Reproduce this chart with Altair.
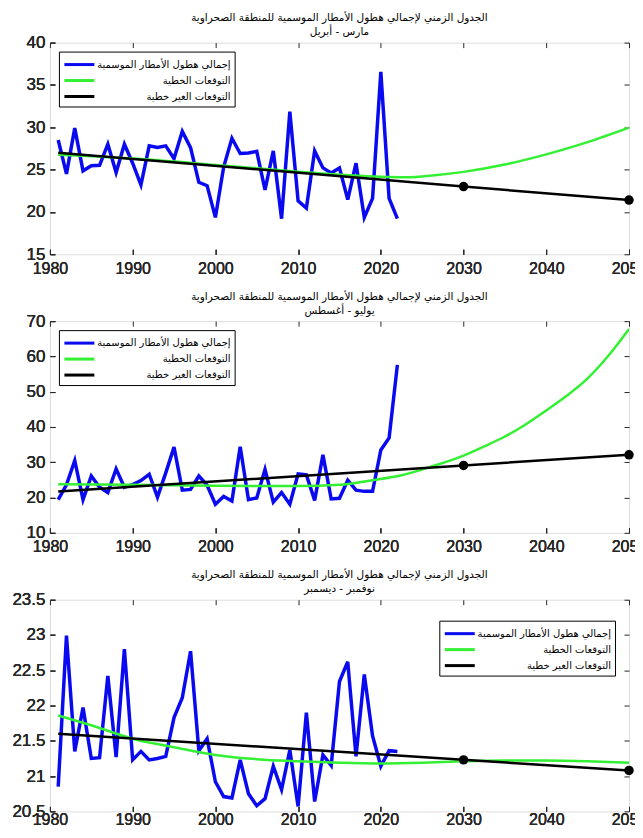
import altair as alt
import pandas as pd

TITLE = "الجدول الزمني لإجمالي هطول الأمطار الموسمية للمنطقة الصحراوية"
SUBTITLES = ["مارس - أبريل", "يوليو - أغسطس", "نوفمبر - ديسمبر"]
SERIES = ["إجمالي هطول الأمطار الموسمية", "التوقعات الخطية", "التوقعات الغير خطية"]

years = list(range(1981, 2023))

# March - April
obs_1 = [28.5, 24.5, 29.9, 24.85, 25.45, 25.5, 28.0, 24.65, 28.0, 25.75, 23.2, 27.8,
         27.6, 27.8, 26.3, 29.5, 27.6, 23.5, 23.1, 19.35, 25.3, 28.7, 26.9, 26.95,
         27.15, 22.6, 27.2, 19.2, 31.85, 21.3, 20.45, 27.2, 25.2, 24.6, 25.2, 21.45,
         25.75, 19.35, 21.6, 36.55, 21.6, 19.2]
lin_years_1 = [1981, 1990, 2000, 2010, 2015, 2020, 2023, 2026.5, 2030, 2035, 2040, 2045, 2050]
lin_1 = [26.75, 26.3, 25.55, 24.75, 24.4, 24.15, 24.1, 24.34, 24.73, 25.6, 26.8, 28.25, 29.96]
nl_years = [1981, 2030, 2050]
nl_1 = [27.0, 23.0, 21.4]

# July - August
obs_2 = [19.4, 23.6, 30.5, 19.4, 26.1, 22.9, 21.4, 28.1, 22.9, 23.7, 24.8, 26.6,
         20.1, 27.0, 34.3, 22.1, 22.3, 26.1, 23.5, 18.1, 20.3, 19.0, 34.4, 19.4,
         19.9, 28.0, 18.7, 21.4, 18.1, 26.7, 26.4, 19.2, 32.1, 19.6, 19.8, 24.9,
         22.1, 21.75, 21.75, 33.5, 36.9, 57.6]
lin_years_2 = [1981, 1990, 2000, 2005, 2010, 2015, 2019, 2022.5, 2026, 2030, 2032.5,
               2035, 2037.5, 2040, 2042.5, 2045, 2047.5, 2050]
lin_2 = [23.8, 23.6, 23.35, 23.25, 23.25, 23.6, 24.9, 26.3, 28.7, 31.9, 34.5,
         37.3, 40.7, 44.7, 48.9, 53.8, 60.2, 67.8]
nl_2 = [21.7, 29.1, 32.1]

# November - December
obs_3 = [20.85, 22.99, 21.35, 21.97, 21.25, 21.26, 22.42, 21.27, 22.8, 21.23, 21.35, 21.23,
         21.25, 21.28, 21.83, 22.11, 22.77, 21.36, 21.53, 20.92, 20.71, 20.69, 21.23, 20.75,
         20.58, 20.68, 21.14, 20.81, 21.37, 20.57, 21.9, 20.64, 21.3, 21.15, 22.34, 22.62,
         21.28, 22.44, 21.57, 21.14, 21.36, 21.35]
lin_years_3 = [1981, 1985, 1990, 1995, 2000, 2005, 2010, 2015, 2020, 2025, 2030, 2035, 2040, 2045, 2050]
lin_3 = [21.86, 21.72, 21.53, 21.41, 21.3, 21.24, 21.21, 21.19, 21.18, 21.19, 21.21, 21.22, 21.22, 21.21, 21.19]
nl_3 = [21.6, 21.23, 21.08]

x_ticks = [1980, 1990, 2000, 2010, 2020, 2030, 2040, 2050]
y_ticks_1 = [15, 20, 25, 30, 35, 40]
y_ticks_2 = [10, 20, 30, 40, 50, 60, 70]
y_ticks_3 = [20.5, 21, 21.5, 22, 22.5, 23, 23.5]

COLORS = ["#0a0af0", "#33f033", "#000000"]
AXIS_COLOR = "#262626"
NUM_FONT = "Liberation Sans"
AR_FONT = "DejaVu Sans"
W, H = 580, 212
LINE_SYMBOL = "M-1,0H3"


def panel(obs, lin_y, lin_v, nl_v, ydom, yticks, sub, lx, ly, xpad):
    obs_df = pd.DataFrame({"year": years, "value": obs, "series": SERIES[0]})
    lin_df = pd.DataFrame({"year": lin_y, "value": lin_v, "series": SERIES[1]})
    nl_df = pd.DataFrame({"year": nl_years, "value": nl_v, "series": SERIES[2]})
    pts_df = nl_df[nl_df["year"] >= 2030]

    xs = alt.Scale(domain=[1980, 2050], nice=False, zero=False)
    ys = alt.Scale(domain=ydom, nice=False, zero=False)

    legend = alt.Legend(
        title=None, orient="none", legendX=lx, legendY=ly, direction="vertical",
        symbolType=LINE_SYMBOL, symbolSize=225, symbolStrokeWidth=3,
        labelFont=AR_FONT, labelFontSize=10, labelColor="black",
        labelAlign="right", labelOffset=150, labelLimit=400,
        strokeColor="black", fillColor="white", padding=4, rowPadding=1,
        cornerRadius=0,
    )
    color = alt.Color("series:N", scale=alt.Scale(domain=SERIES, range=COLORS), legend=legend)

    xb = alt.X("year:Q", scale=xs, axis=alt.Axis(
        orient="bottom", values=x_ticks, format="d", offset=-5, tickSize=5,
        domain=False, grid=False, title=None, labelPadding=xpad, labelFlush=False,
        labelFont=NUM_FONT, labelFontSize=16, labelColor=AXIS_COLOR, tickColor=AXIS_COLOR))
    yl = alt.Y("value:Q", scale=ys, axis=alt.Axis(
        orient="left", values=yticks, format=".4~g", offset=-5, tickSize=5,
        domain=False, grid=False, title=None, labelPadding=5, labelFlush=False,
        labelFont=NUM_FONT, labelFontSize=17, labelColor=AXIS_COLOR, tickColor=AXIS_COLOR))
    xt = alt.X("year:Q", scale=xs, axis=alt.Axis(
        orient="top", values=x_ticks, offset=-5, tickSize=5, labels=False,
        domain=False, grid=False, title=None, tickColor=AXIS_COLOR))
    yr = alt.Y("value:Q", scale=ys, axis=alt.Axis(
        orient="right", values=yticks, offset=-5, tickSize=5, labels=False,
        domain=False, grid=False, title=None, tickColor=AXIS_COLOR))

    blue = alt.Chart(obs_df).mark_line(strokeWidth=3.5, clip=True).encode(x=xb, y=yl, color=color)
    green = alt.Chart(lin_df).mark_line(strokeWidth=2.5, interpolate="monotone", clip=True).encode(
        x=xb, y=yl, color=color)
    black = alt.Chart(nl_df).mark_line(strokeWidth=2.5, clip=True).encode(x=xb, y=yl, color=color)
    pts = alt.Chart(pts_df).mark_point(filled=True, color="black", size=90, opacity=1).encode(x=xt, y=yr)

    return alt.layer(blue, green, black, pts).properties(
        width=W, height=H,
        title=alt.TitleParams(text=[TITLE, sub], font=AR_FONT, fontSize=10.5, fontWeight="normal",
                              color="black", offset=-4, lineHeight=14, anchor="middle"),
    )


p1 = panel(obs_1, lin_years_1, lin_1, nl_1, [15, 40], y_ticks_1, SUBTITLES[0], 9, 9, 6)
p2 = panel(obs_2, lin_years_2, lin_2, nl_2, [10, 70], y_ticks_2, SUBTITLES[1], 9, 9, 6)
p3 = panel(obs_3, lin_years_3, lin_3, nl_3, [20.5, 23.5], y_ticks_3, SUBTITLES[2], 390, 21, 0)

chart = alt.vconcat(p1, p2, p3, spacing=14).resolve_scale(color="independent").resolve_legend(
    color="independent"
).properties(
    padding={"left": 3, "top": 4, "right": -13, "bottom": -4}
).configure_view(stroke=AXIS_COLOR, strokeWidth=1).configure(background="white")

chart.save("out.html", embed_options={"renderer": "svg", "actions": False})
